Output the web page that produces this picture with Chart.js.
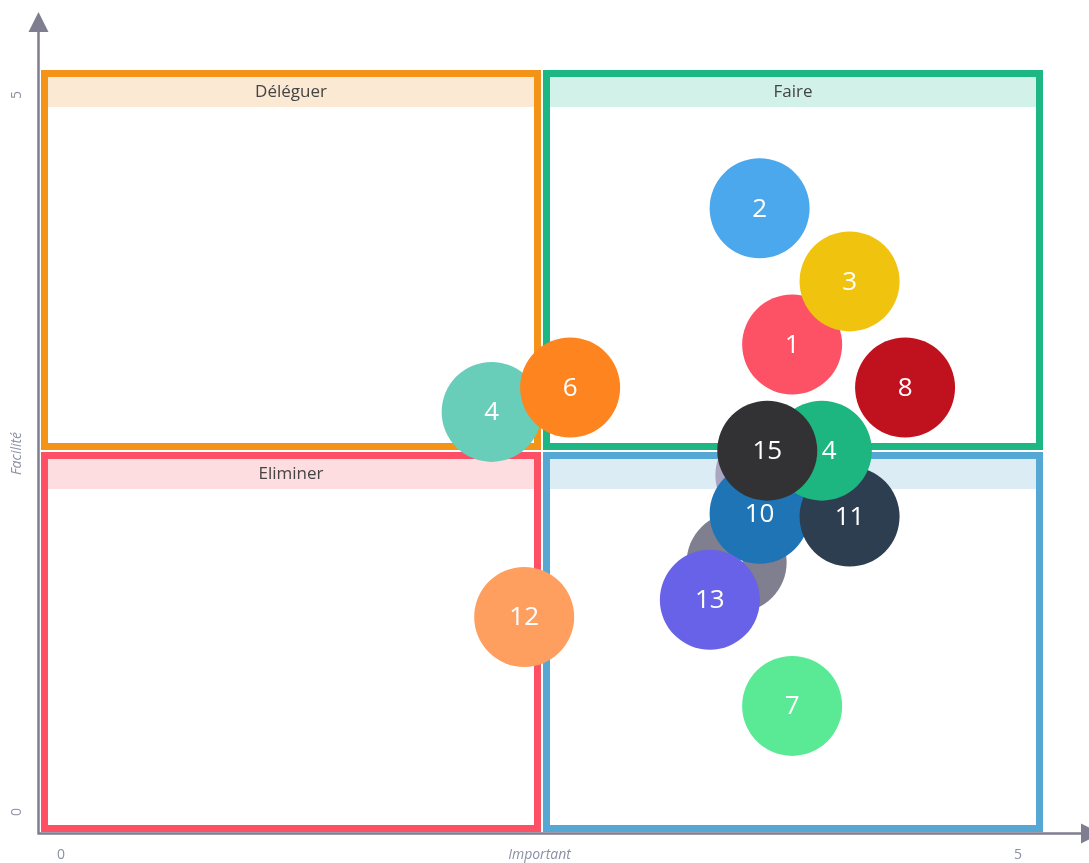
<!DOCTYPE html>
<html>
<head>
<meta charset="utf-8">
<script src="https://cdn.jsdelivr.net/npm/chart.js@4.4.0/dist/chart.umd.min.js"></script>
<style>
  html, body { margin: 0; padding: 0; background: #fff; }
  canvas { display: block; }
</style>
</head>
<body>
<canvas id="matrix" width="1089" height="863"></canvas>
<script>
// tasks, in drawing order (later ones sit on top)
const taskLabels = ['1', '2', '3', '4', '5', '6', '7', '8', '9', '10', '11', '12', '13', '14', '15'];
const importance = [3.82, 3.65, 4.12, 2.25, 3.68, 2.66, 3.82, 4.41, 3.53, 3.65, 4.12, 2.42, 3.39, 3.975, 3.69];
const facility   = [3.26, 4.21, 3.70, 2.79, 2.35, 2.96, 0.74, 2.96, 1.74, 2.08, 2.06, 1.36, 1.48, 2.52, 2.52];
const taskColors = ['#fd5166', '#4ba8ec', '#f0c30f', '#68cdb9', '#aaa5c0', '#fd841e', '#5ae995', '#c0111f',
                    '#7f7f8f', '#1f74b6', '#2c3e50', '#ff9f5f', '#6762e7', '#1db580', '#323235'];

const quadrantNames = ['Déléguer', 'Faire', 'Eliminer', 'Planifier'];
const quadrantStroke = ['#f39419', '#1db784', '#fd5064', '#54a8d3'];
const quadrantBand = ['#fce9d4', '#d2f1e8', '#fedde1', '#dcecf5'];

const axisColor = '#7e7e90';
const textGrey = '#8b90a3';

const quadrants = {
    id: 'quadrants',
    beforeDatasetsDraw(chart) {
        const { ctx, chartArea: a } = chart;
        const L = a.left - 20, R = a.right + 25, T = a.top - 25, B = a.bottom + 20;
        const midX = (L + R) / 2, midY = (T + B) / 2;
        const boxes = [
            [L, T, midX - 1, midY - 1],
            [midX + 1, T, R, midY - 1],
            [L, midY + 1, midX - 1, B],
            [midX + 1, midY + 1, R, B]
        ];
        ctx.save();

        // axes with arrows
        ctx.strokeStyle = axisColor;
        ctx.fillStyle = axisColor;
        ctx.lineWidth = 2.5;
        const ax = L - 2.5, ay = B + 1.5;
        ctx.beginPath();
        ctx.moveTo(ax, T - 40);
        ctx.lineTo(ax, ay + 1);
        ctx.moveTo(ax - 1, ay);
        ctx.lineTo(R + 40, ay);
        ctx.stroke();
        ctx.beginPath();
        ctx.moveTo(ax, T - 58);
        ctx.lineTo(ax - 10, T - 38);
        ctx.lineTo(ax + 10, T - 38);
        ctx.closePath();
        ctx.fill();
        ctx.beginPath();
        ctx.moveTo(R + 58, ay);
        ctx.lineTo(R + 38, ay - 10);
        ctx.lineTo(R + 38, ay + 10);
        ctx.closePath();
        ctx.fill();

        boxes.forEach((b, i) => {
            const [x0, y0, x1, y1] = b;
            ctx.fillStyle = quadrantBand[i];
            ctx.fillRect(x0 + 7, y0 + 7, x1 - x0 - 14, 30);
            ctx.strokeStyle = quadrantStroke[i];
            ctx.lineWidth = 7;
            ctx.strokeRect(x0 + 3.5, y0 + 3.5, x1 - x0 - 7, y1 - y0 - 7);
            ctx.fillStyle = '#444444';
            ctx.font = '17px "Open Sans"';
            ctx.textAlign = 'center';
            ctx.textBaseline = 'middle';
            ctx.fillText(quadrantNames[i], (x0 + x1) / 2, y0 + 22);
        });
        ctx.restore();
    },
    afterDatasetDraw(chart, args) {
        const el = args.meta.data[0];
        if (!el) return;
        const { ctx } = chart;
        ctx.save();
        ctx.fillStyle = '#ffffff';
        ctx.font = '26px "Open Sans"';
        ctx.textAlign = 'center';
        ctx.textBaseline = 'middle';
        ctx.fillText(chart.data.datasets[args.index].label, el.x, el.y + 1);
        ctx.restore();
    }
};

// one dataset per task so each number is painted right after its own bubble;
// reversed because Chart.js paints the first dataset last
const datasets = taskLabels.map((name, i) => ({
    label: name,
    data: [{ x: importance[i], y: facility[i] }],
    backgroundColor: taskColors[i],
    borderWidth: 0,
    radius: 50,
    clip: false
})).reverse();

new Chart(document.getElementById('matrix'), {
    type: 'bubble',
    data: { datasets },
    options: {
        responsive: false,
        animation: false,
        events: [],
        layout: { padding: { top: 95, right: 71, left: 0, bottom: 0 } },
        plugins: {
            legend: { display: false },
            tooltip: { enabled: false }
        },
        scales: {
            x: {
                type: 'linear',
                min: 0,
                max: 5,
                grid: { display: false, drawTicks: false },
                border: { display: false },
                ticks: {
                    stepSize: 5,
                    padding: 35,
                    color: textGrey,
                    font: { family: 'Open Sans', size: 14 }
                },
                title: {
                    display: true,
                    text: 'Important',
                    color: textGrey,
                    padding: { top: 0, bottom: 0 },
                    font: { family: 'Open Sans', size: 14, style: 'italic' }
                },
                afterFit(scale) { scale.height = 51; }
            },
            y: {
                type: 'linear',
                min: 0,
                max: 5,
                grid: { display: false, drawTicks: false },
                border: { display: false },
                ticks: {
                    stepSize: 5,
                    padding: 40,
                    minRotation: 90,
                    maxRotation: 90,
                    crossAlign: 'center',
                    color: textGrey,
                    font: { family: 'Open Sans', size: 14 }
                },
                title: {
                    display: true,
                    text: 'Facilité',
                    color: textGrey,
                    padding: { top: 9, bottom: 0 },
                    font: { family: 'Open Sans', size: 14, style: 'italic' }
                },
                afterFit(scale) { scale.width = 61; }
            }
        }
    },
    plugins: [quadrants]
});
</script>
</body>
</html>
